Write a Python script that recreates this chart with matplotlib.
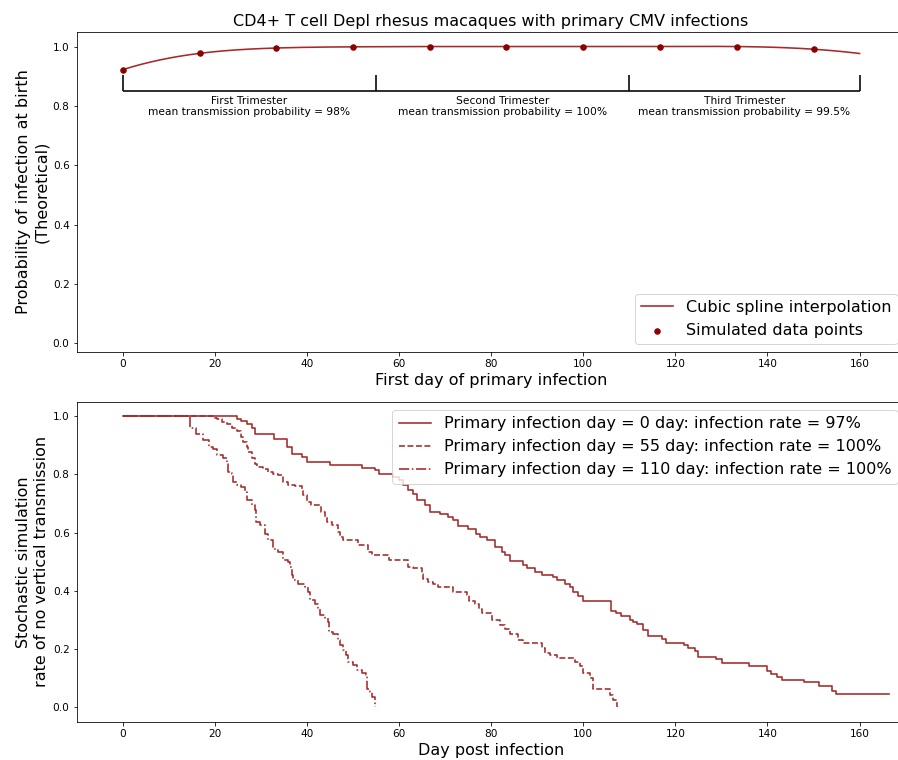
import matplotlib
matplotlib.use('Agg')
import matplotlib.pyplot as plt
import numpy as np

# simulated probabilities of infection at birth vs first day of primary infection
sim_days = [0, 16.7, 33.3, 50, 66.7, 83.3, 100, 116.7, 133.3, 150]
sim_prob = [0.922, 0.977, 0.995, 0.999, 1.0, 1.0, 1.0, 1.0, 1.0, 0.991]

trimester_edges = [0, 55, 110, 160]
trimester_names = ['First Trimester', 'Second Trimester', 'Third Trimester']
trimester_mean = ['98%', '100%', '99.5%']

# stochastic survival curves (no vertical transmission) per primary infection day
day0_t = [0, 24.8, 25.8, 26.9, 28.0, 28.7, 32.9, 35.7, 36.7, 38.9, 40.0, 45.0, 51.9, 54.8, 55.7,
          58.8, 59.9, 60.9, 62.0, 63.0, 63.8, 65.6, 66.7, 68.9, 70.7, 71.8, 72.9, 75.0, 76.7, 77.6,
          79.0, 80.8, 82.3, 83.0, 84.0, 87.0, 87.7, 89.5, 91.0, 93.5, 94.2, 96.0, 97.1, 97.8, 98.9,
          99.9, 106.0, 107.1, 108.1, 110.2, 110.9, 111.7, 113.0, 114.1, 117.0, 118.0, 121.9, 122.8,
          124.3, 125.0, 128.8, 130.1, 136.1, 139.8, 140.8, 142.0, 143.1, 148.0, 151.1, 154.0, 154.9,
          166.3]
day0_s = [1.0, 0.99, 0.983, 0.973, 0.961, 0.94, 0.923, 0.895, 0.869, 0.86, 0.843, 0.832, 0.822,
          0.814, 0.803, 0.79, 0.78, 0.763, 0.746, 0.732, 0.711, 0.694, 0.671, 0.663, 0.654, 0.643,
          0.622, 0.611, 0.597, 0.585, 0.574, 0.551, 0.534, 0.522, 0.503, 0.488, 0.479, 0.465, 0.454,
          0.446, 0.436, 0.425, 0.413, 0.396, 0.381, 0.364, 0.331, 0.322, 0.313, 0.301, 0.293, 0.285,
          0.265, 0.245, 0.234, 0.221, 0.213, 0.204, 0.192, 0.173, 0.165, 0.152, 0.142, 0.124, 0.113,
          0.102, 0.095, 0.087, 0.073, 0.055, 0.044, 0.044]

day55_t = [0, 19.7, 20.4, 21.5, 22.6, 23.7, 24.8, 25.8, 26.2, 26.9, 27.3, 28.0, 28.7, 29.1, 30.5,
           31.6, 32.7, 33.8, 34.9, 36.0, 37.4, 38.9, 39.1, 40.0, 41.0, 43.0, 43.9, 44.3, 45.4, 46.8,
           47.2, 47.9, 51.2, 53.3, 54.1, 57.9, 61.9, 63.1, 64.9, 65.3, 66.4, 67.4, 68.5, 71.8, 74.8,
           75.2, 76.6, 77.4, 78.0, 80.1, 81.9, 83.0, 84.1, 85.9, 87.0, 91.0, 91.7, 92.8, 94.2, 98.2,
           99.3, 100.0, 101.5, 102.2, 105.8, 106.5, 107.3]
day55_s = [1.0, 0.995, 0.99, 0.98, 0.975, 0.958, 0.948, 0.929, 0.912, 0.895, 0.877, 0.855, 0.837,
           0.826, 0.82, 0.809, 0.801, 0.797, 0.774, 0.765, 0.761, 0.746, 0.729, 0.706, 0.694, 0.671,
           0.654, 0.637, 0.625, 0.602, 0.585, 0.574, 0.557, 0.534, 0.522, 0.505, 0.482, 0.477, 0.459,
           0.442, 0.431, 0.423, 0.413, 0.396, 0.385, 0.365, 0.355, 0.339, 0.325, 0.301, 0.282, 0.27,
           0.253, 0.23, 0.222, 0.202, 0.185, 0.179, 0.169, 0.156, 0.141, 0.116, 0.099, 0.064, 0.041,
           0.024, 0.0]

day110_t = [0, 14.6, 15.9, 17.5, 18.8, 19.7, 20.4, 21.8, 22.6, 22.8, 23.7, 23.9, 24.8, 25.6, 26.6,
            26.9, 28.0, 28.7, 28.9, 29.8, 30.9, 31.6, 32.7, 33.8, 34.9, 36.0, 36.3, 36.7, 37.0, 38.1,
            39.6, 40.3, 40.7, 41.8, 42.5, 42.8, 43.9, 44.6, 44.9, 45.7, 46.8, 47.2, 47.9, 48.6, 49.0,
            50.1, 50.8, 51.9, 52.8, 53.0, 53.7, 54.1, 54.8]
day110_s = [1.0, 0.96, 0.94, 0.918, 0.895, 0.889, 0.866, 0.857, 0.837, 0.809, 0.803, 0.774, 0.763,
            0.757, 0.74, 0.711, 0.694, 0.677, 0.637, 0.625, 0.597, 0.574, 0.545, 0.534, 0.505, 0.499,
            0.482, 0.454, 0.436, 0.425, 0.413, 0.396, 0.368, 0.356, 0.339, 0.316, 0.305, 0.293, 0.259,
            0.251, 0.23, 0.213, 0.196, 0.179, 0.156, 0.144, 0.127, 0.116, 0.11, 0.064, 0.053, 0.035,
            0.0]

curve_labels = ['Primary infection day = 0 day: infection rate = 97%',
                'Primary infection day = 55 day: infection rate = 100%',
                'Primary infection day = 110 day: infection rate = 100%']


def cubic_spline(xk, yk, xs):
    # not-a-knot cubic spline, extrapolates with the end pieces
    xk = np.asarray(xk, float)
    yk = np.asarray(yk, float)
    n = len(xk) - 1
    A = np.zeros((4 * n, 4 * n))
    b = np.zeros(4 * n)
    r = 0
    for i in range(n):
        h = xk[i + 1] - xk[i]
        A[r, 4 * i] = 1
        b[r] = yk[i]
        r += 1
        A[r, 4 * i:4 * i + 4] = [1, h, h ** 2, h ** 3]
        b[r] = yk[i + 1]
        r += 1
    for i in range(n - 1):
        h = xk[i + 1] - xk[i]
        A[r, 4 * i:4 * i + 4] = [0, 1, 2 * h, 3 * h ** 2]
        A[r, 4 * (i + 1) + 1] = -1
        r += 1
        A[r, 4 * i:4 * i + 4] = [0, 0, 2, 6 * h]
        A[r, 4 * (i + 1) + 2] = -2
        r += 1
    for i in (0, n - 2):
        A[r, 4 * i + 3] = 1
        A[r, 4 * (i + 1) + 3] = -1
        r += 1
    coef = np.linalg.solve(A, b).reshape(n, 4)
    idx = np.clip(np.searchsorted(xk, xs, side='right') - 1, 0, n - 1)
    t = xs - xk[idx]
    c = coef[idx]
    return c[:, 0] + c[:, 1] * t + c[:, 2] * t ** 2 + c[:, 3] * t ** 3


plt.rcParams['xtick.labelsize'] = 10.5
plt.rcParams['ytick.labelsize'] = 10.5

fig = plt.figure(figsize=(898 / 72, 760 / 72), dpi=72)
ax1 = fig.add_axes([0.0853, 0.5364, 0.9232, 0.4219])
ax2 = fig.add_axes([0.0853, 0.0504, 0.9232, 0.4210])

# top panel
xs = np.linspace(0, trimester_edges[-1], 400)
ax1.plot(xs, cubic_spline(sim_days, sim_prob, xs), color='#a52a2a', lw=1.6,
         label='Cubic spline interpolation')
ax1.scatter(sim_days, sim_prob, color='darkred', s=30, zorder=3, label='Simulated data points')

ax1.hlines(0.85, trimester_edges[0], trimester_edges[-1], color='black', lw=1.6)
ax1.vlines(trimester_edges, 0.85, 0.905, color='black', lw=1.6)
for k in range(3):
    mid = (trimester_edges[k] + trimester_edges[k + 1]) / 2
    ax1.text(mid, 0.835, trimester_names[k] + '\nmean transmission probability = ' + trimester_mean[k],
             ha='center', va='top', fontsize=10.6)

ax1.set_xlim(-10, 170)
ax1.set_ylim(-0.03, 1.05)
ax1.set_title('CD4+ T cell Depl rhesus macaques with primary CMV infections', fontsize=16)
ax1.set_xlabel('First day of primary infection', fontsize=16)
ax1.set_ylabel('Probability of infection at birth\n(Theoretical)', fontsize=16)
ax1.legend(loc='lower right', fontsize=16)

# bottom panel
ax2.plot(day0_t, day0_s, drawstyle='steps-post', color='#a52a2a', lw=1.6, ls='-', label=curve_labels[0])
ax2.plot(day55_t, day55_s, drawstyle='steps-post', color='#a52a2a', lw=1.6, ls='--', label=curve_labels[1])
ax2.plot(day110_t, day110_s, drawstyle='steps-post', color='#a52a2a', lw=1.6, ls='-.', label=curve_labels[2])

ax2.set_xlim(-10, 170)
ax2.set_ylim(-0.05, 1.05)
ax2.set_xlabel('Day post infection', fontsize=16)
ax2.set_ylabel('Stochastic simulation\nrate of no vertical transmission', fontsize=16)
ax2.legend(loc='upper right', fontsize=16)

fig.savefig('out.png', dpi=72)
